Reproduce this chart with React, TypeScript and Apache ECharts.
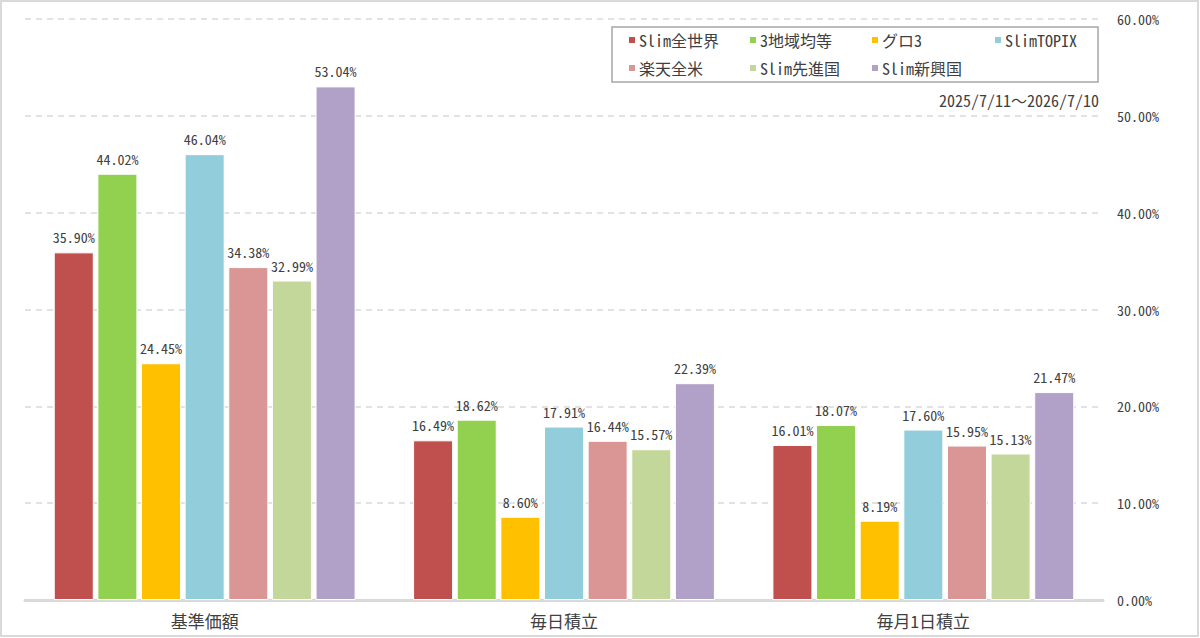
import React, { useEffect, useRef } from "react";
import * as echarts from "echarts";

const categories = ["基準価額", "毎日積立", "毎月1日積立"];
const seriesNames = ["Slim全世界", "3地域均等", "グロ3", "SlimTOPIX", "楽天全米", "Slim先進国", "Slim新興国"];
const slimZensekai = [35.9, 16.49, 16.01];
const chiiki3 = [44.02, 18.62, 18.07];
const guro3 = [24.45, 8.6, 8.19];
const slimTopix = [46.04, 17.91, 17.6];
const rakutenZenbei = [34.38, 16.44, 15.95];
const slimSenshin = [32.99, 15.57, 15.13];
const slimShinko = [53.04, 22.39, 21.47];
const seriesValues = [slimZensekai, chiiki3, guro3, slimTopix, rakutenZenbei, slimSenshin, slimShinko];
const colors = ["#C0504D", "#92D050", "#FFC000", "#92CDDC", "#DA9694", "#C4D79B", "#B1A0C7"];
const periodText = "2025/7/11～2026/7/10";

const FONT = "'Noto Sans Mono CJK JP', 'DejaVu Sans Mono', 'Noto Sans CJK JP', monospace";
const TEXT = "#404040";

// legend item slots (column left, row top)
const legendCols = [627, 748, 870, 993];
const legendRows = [32, 60];

export default function App() {
  const ref = useRef<HTMLDivElement>(null);
  useEffect(() => {
    document.body.style.margin = "0";
    const chart = echarts.init(ref.current!, null, { renderer: "svg" });
    const legends = seriesNames.map((name, i) => ({
      data: [name],
      left: legendCols[i % 4],
      top: legendRows[Math.floor(i / 4)],
      padding: 0,
      itemWidth: 8,
      itemHeight: 8,
      icon: "rect",
      textStyle: { fontFamily: FONT, fontSize: 16, lineHeight: 16, color: TEXT, padding: [0, 0, 0, -2] },
    }));
    chart.setOption({
      animation: false,
      textStyle: { fontFamily: FONT },
      color: colors,
      grid: { left: 25, right: 97, top: 19, bottom: 38, containLabel: false },
      legend: legends,
      graphic: [
        {
          type: "rect",
          shape: { x: 1, y: 1, width: 1197, height: 635 },
          style: { fill: "none", stroke: "#d9d9d9", lineWidth: 2 },
          silent: true,
        },
        {
          type: "rect",
          shape: { x: 612, y: 27, width: 486, height: 55 },
          style: { fill: "#fff", stroke: "#a6a6a6", lineWidth: 1.5 },
          z: -1,
          silent: true,
        },
        {
          type: "text",
          x: 1099,
          y: 100,
          style: {
            text: periodText,
            align: "right",
            verticalAlign: "middle",
            fontFamily: FONT,
            fontSize: 16,
            fill: TEXT,
          },
        },
      ],
      xAxis: {
        type: "category",
        data: categories,
        axisLine: { lineStyle: { color: "#d9d9d9", width: 3 } },
        axisTick: { show: false },
        axisLabel: { color: TEXT, fontSize: 17, fontFamily: FONT, margin: 12 },
      },
      yAxis: {
        type: "value",
        position: "right",
        min: 0,
        max: 60,
        interval: 10,
        axisLine: { show: false },
        axisTick: { show: false },
        axisLabel: {
          color: TEXT,
          fontSize: 14,
          fontFamily: FONT,
          margin: 14,
          formatter: (v: number) => v.toFixed(2) + "%",
        },
        splitLine: { lineStyle: { color: "#d9d9d9", type: [6, 5], width: 1.5 } },
      },
      series: seriesNames.map((name, i) => ({
        name,
        type: "bar",
        data: seriesValues[i],
        barGap: "9%",
        barCategoryGap: "16%",
        itemStyle: { color: colors[i], borderColor: "#ffffff", borderWidth: 1 },
        label: {
          show: true,
          position: "top",
          distance: 8,
          color: TEXT,
          fontSize: 14,
          fontFamily: FONT,
          formatter: (p: any) => Number(p.value).toFixed(2) + "%",
        },
      })),
    });
    return () => chart.dispose();
  }, []);
  return <div ref={ref} style={{ width: 1200, height: 638 }} />;
}
